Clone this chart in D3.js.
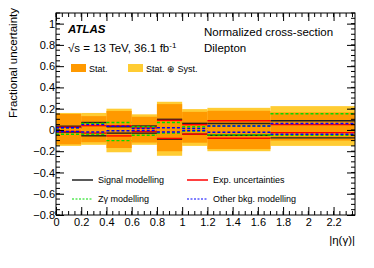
<!DOCTYPE html>
<meta charset="utf-8">
<style>
body { margin: 0; background: #fff; }
svg text { font-family: "Liberation Sans", Arial, sans-serif; fill: #000; }
</style>
<svg width="374" height="268"></svg>
<script src="https://d3js.org/d3.v7.min.js"></script>
<script>

// bin edges in |eta(gamma)|
var edges = [0, 0.2, 0.4, 0.6, 0.8, 1.0, 1.2, 1.7, 2.37];

// stat and total uncertainties (up / down)
var statUp   = [0.15, 0.13, 0.178, 0.124, 0.243, 0.17, 0.18, 0.165];
var statDn   = [-0.135, -0.115, -0.17, -0.118, -0.2, -0.12, -0.18, -0.1];
var totUp    = [0.16, 0.16, 0.2, 0.147, 0.265, 0.196, 0.208, 0.224];
var totDn    = [-0.15, -0.14, -0.21, -0.14, -0.243, -0.15, -0.2, -0.15];

// individual components
var sigUp    = [0.035, 0.07, 0.03, 0.037, 0.1, 0.062, 0.06, 0.087];
var sigDn    = [-0.02, -0.055, -0.03, -0.03, -0.087, -0.04, -0.05, -0.075];
var expUp    = [0.025, 0.04, 0.04, 0.02, 0.09, 0.05, 0.087, 0.05];
var expDn    = [-0.015, -0.03, -0.056, -0.015, -0.08, -0.04, -0.078, -0.025];
var zgUp     = [0.02, 0.06, 0.07, 0.03, 0.07, 0.03, 0.037, 0.152];
var zgDn     = [-0.04, -0.04, -0.1, -0.05, -0.03, -0.01, -0.047, -0.05];
var bkgUp    = [0.02, 0.05, 0.035, 0.015, 0.02, 0.015, 0.037, 0.06];
var bkgDn    = [-0.015, -0.02, -0.008, -0.005, -0.02, -0.005, -0.022, -0.04];

var xTicks = [0, 0.2, 0.4, 0.6, 0.8, 1, 1.2, 1.4, 1.6, 1.8, 2, 2.2];
var yTicks = [-0.8, -0.6, -0.4, -0.2, 0, 0.2, 0.4, 0.6, 0.8, 1];

var svg = d3.select("svg");
var mLeft = 56, mRight = 355, mTop = 13, mBottom = 215;

var x = d3.scaleLinear().domain([0, 2.37]).range([mLeft, mRight]);
var y = d3.scaleLinear().domain([-0.8, 1.1]).range([mBottom, mTop]);

var bins = d3.range(edges.length - 1);

// bands
svg.append("g").selectAll("rect").data(bins).enter().append("rect")
    .attr("x", function(i) { return x(edges[i]); })
    .attr("width", function(i) { return x(edges[i + 1]) - x(edges[i]); })
    .attr("y", function(i) { return y(totUp[i]); })
    .attr("height", function(i) { return y(totDn[i]) - y(totUp[i]); })
    .attr("fill", "#ffcc33");

svg.append("g").selectAll("rect").data(bins).enter().append("rect")
    .attr("x", function(i) { return x(edges[i]); })
    .attr("width", function(i) { return x(edges[i + 1]) - x(edges[i]); })
    .attr("y", function(i) { return y(statUp[i]); })
    .attr("height", function(i) { return y(statDn[i]) - y(statUp[i]); })
    .attr("fill", "#ff9900");

// component lines
var comps = [
  { up: sigUp, dn: sigDn, color: "#222", dash: null, w: 1.4 },
  { up: expUp, dn: expDn, color: "#ff0000", dash: null, w: 1.4 },
  { up: zgUp, dn: zgDn, color: "#00dd00", dash: "3,2", w: 1.4 },
  { up: bkgUp, dn: bkgDn, color: "#0000ff", dash: "3,2", w: 1.4 }
];

comps.forEach(function(c) {
  [c.up, c.dn].forEach(function(vals) {
    svg.append("g").selectAll("line").data(bins).enter().append("line")
        .attr("x1", function(i) { return x(edges[i]); })
        .attr("x2", function(i) { return x(edges[i + 1]); })
        .attr("y1", function(i) { return y(vals[i]); })
        .attr("y2", function(i) { return y(vals[i]); })
        .attr("stroke", c.color)
        .attr("stroke-width", c.w)
        .attr("stroke-dasharray", c.dash);
  });
});

// axes, ROOT style ticks inside
var minorX = d3.range(0, 2.37, 0.05), minorY = d3.range(-0.8, 1.1001, 0.05);

var xAxis = svg.append("g").attr("transform", "translate(0," + mBottom + ")")
    .call(d3.axisBottom(x).tickValues(xTicks).tickSize(-8).tickPadding(2).tickFormat(d3.format("")));
var xTop = svg.append("g").attr("transform", "translate(0," + mTop + ")")
    .call(d3.axisTop(x).tickValues(xTicks).tickSize(-8).tickFormat(""));
var yAxis = svg.append("g").attr("transform", "translate(" + mLeft + ",0)")
    .call(d3.axisLeft(y).tickValues(yTicks).tickSize(-8).tickPadding(2).tickFormat(d3.format("")));
var yRight = svg.append("g").attr("transform", "translate(" + mRight + ",0)")
    .call(d3.axisRight(y).tickValues(yTicks).tickSize(-8).tickFormat(""));

[xAxis, xTop, yAxis, yRight].forEach(function(a) {
  a.select(".domain").remove();
  a.selectAll("text").style("font-size", "11px").style("font-family", "Liberation Sans, Arial, sans-serif");
});
xAxis.selectAll("text").attr("dy", "0.85em");
yAxis.selectAll("text").attr("dx", "1px");

svg.append("g").selectAll("line").data(minorX).enter().append("line")
    .attr("x1", function(d) { return x(d); }).attr("x2", function(d) { return x(d); })
    .attr("y1", mBottom).attr("y2", mBottom - 4).attr("stroke", "#000");
svg.append("g").selectAll("line").data(minorX).enter().append("line")
    .attr("x1", function(d) { return x(d); }).attr("x2", function(d) { return x(d); })
    .attr("y1", mTop).attr("y2", mTop + 4).attr("stroke", "#000");
svg.append("g").selectAll("line").data(minorY).enter().append("line")
    .attr("x1", mLeft).attr("x2", mLeft + 4)
    .attr("y1", function(d) { return y(d); }).attr("y2", function(d) { return y(d); }).attr("stroke", "#000");
svg.append("g").selectAll("line").data(minorY).enter().append("line")
    .attr("x1", mRight).attr("x2", mRight - 4)
    .attr("y1", function(d) { return y(d); }).attr("y2", function(d) { return y(d); }).attr("stroke", "#000");

svg.append("rect").attr("x", mLeft).attr("y", mTop)
    .attr("width", mRight - mLeft).attr("height", mBottom - mTop)
    .attr("fill", "none").attr("stroke", "#000").attr("stroke-width", 1);

// axis titles
svg.append("text").attr("transform", "translate(17," + (mTop - 5) + ") rotate(-90)")
    .attr("text-anchor", "end").style("font-size", "11.5px").text("Fractional uncertainty");
svg.append("text").attr("x", mRight).attr("y", 244).attr("text-anchor", "end")
    .style("font-size", "11.5px").text("|\u03b7(\u03b3)|");

// labels
svg.append("text").attr("x", 68).attr("y", 33).style("font-size", "11.5px")
    .style("font-weight", "bold").style("font-style", "italic").text("ATLAS");
var lum = svg.append("text").attr("x", 68).attr("y", 52).style("font-size", "11.5px");
lum.append("tspan").text("\u221as = 13 TeV, 36.1 fb");
lum.append("tspan").attr("dy", -4).style("font-size", "8px").text("-1");
svg.append("text").attr("x", 204).attr("y", 36).style("font-size", "11.5px").text("Normalized cross-section");
svg.append("text").attr("x", 204).attr("y", 52).style("font-size", "11.5px").text("Dilepton");

// band legend
var bandLeg = [
  { label: "Stat.", color: "#ff9900", x: 71 },
  { label: "Stat. \u2295 Syst.", color: "#ffcc33", x: 128 }
];
bandLeg.forEach(function(b) {
  svg.append("rect").attr("x", b.x).attr("y", 64).attr("width", 15).attr("height", 8).attr("fill", b.color);
  svg.append("text").attr("x", b.x + 18).attr("y", 72).style("font-size", "9px").text(b.label);
});

// line legend
var lineLeg = [
  { label: "Signal modelling", c: comps[0], x: 72, y: 180 },
  { label: "Exp. uncertainties", c: comps[1], x: 187, y: 180 },
  { label: "Z\u03b3 modelling", c: comps[2], x: 72, y: 199 },
  { label: "Other bkg. modelling", c: comps[3], x: 187, y: 199 }
];
lineLeg.forEach(function(l) {
  svg.append("line").attr("x1", l.x).attr("x2", l.x + 21).attr("y1", l.y).attr("y2", l.y)
      .attr("stroke", l.c.color).attr("stroke-width", l.c.dash ? 1 : 1.5)
      .attr("stroke-dasharray", l.c.dash ? "2,1.5" : null);
  svg.append("text").attr("x", l.x + 26).attr("y", l.y + 3).style("font-size", "9px").text(l.label);
});

</script>
